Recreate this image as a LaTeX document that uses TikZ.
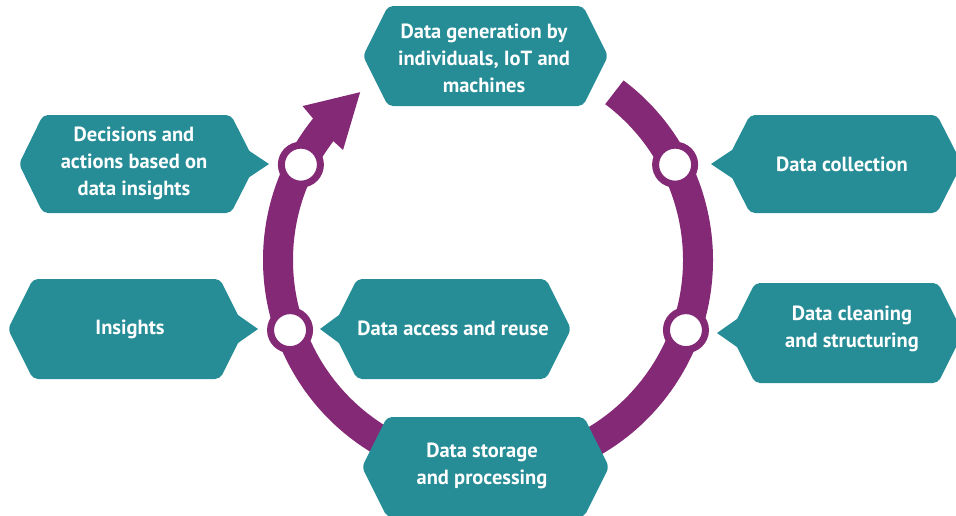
\documentclass[tikz,border=0pt]{standalone}
\usepackage{fontspec}
\setmainfont{PT Sans}
\usetikzlibrary{calc}
\definecolor{tealbox}{RGB}{38,141,151}
\definecolor{purp}{RGB}{132,41,117}
\begin{document}
\begin{tikzpicture}[x=1pt,y=1pt,
  box/.style={fill=tealbox, rounded corners=5pt},
  ptr/.style={fill=tealbox},
  lbl/.style={text=white, font=\bfseries\fontsize{20.5}{27}\selectfont, align=center, inner sep=0pt},
  ring/.style={draw=purp, line width=30pt},
  dot/.style={circle, fill=white, draw=purp, line width=7pt, minimum size=39pt, inner sep=0pt}]
\useasboundingbox (0,0) rectangle (956,-515);
\coordinate (c) at (488,-260);
% ring and arrow
\draw[ring] ($(c)+(53:210pt)$) arc[start angle=53, end angle=-219.5, radius=210pt];
\fill[purp] ($(c)+(127.3:211pt)$) -- ($(c)+(140.3:241pt)$) -- ($(c)+(141:226pt)$)
  -- ($(c)+(142.4:197pt)$) -- ($(c)+(142.8:182pt)$) -- cycle;
\node[dot] (d1) at ($(c)+(27:210pt)$) {};
\node[dot] (d2) at ($(c)+(-19.5:210pt)$) {};
\node[dot] (d3) at ($(c)+(153:210pt)$) {};
\node[dot] (d4) at ($(c)+(199.5:210pt)$) {};
% boxes
\path[box] (363,-56) -- (388,-6) -- (583,-6) -- (608,-56) -- (583,-106) -- (388,-106) -- cycle;
\path[box] (19,-164) -- (43,-115) -- (231,-115) -- (256,-164) -- (231,-213) -- (43,-213) -- cycle;
\path[ptr] (248,-150) -- (269,-164) -- (248,-178) -- cycle;
\path[box] (725,-164) -- (750,-115) -- (937,-115) -- (962,-164) -- (937,-213) -- (750,-213) -- cycle;
\path[ptr] (732,-150) -- (711,-164) -- (732,-178) -- cycle;
\path[box] (8,-329) -- (33,-279) -- (220,-279) -- (245,-329) -- (220,-379) -- (33,-379) -- cycle;
\path[ptr] (238,-315) -- (258,-329) -- (238,-343) -- cycle;
\path[box] (332,-329) -- (357,-279) -- (546,-279) -- (571,-329) -- (546,-379) -- (357,-379) -- cycle;
\path[ptr] (339,-315) -- (320,-329) -- (339,-343) -- cycle;
\path[box] (730,-333) -- (755,-283) -- (938,-283) -- (963,-333) -- (938,-383) -- (755,-383) -- cycle;
\path[ptr] (737,-319) -- (717,-333) -- (737,-347) -- cycle;
\path[box] (362,-467) -- (387,-417) -- (584,-417) -- (609,-467) -- (584,-517) -- (387,-517) -- cycle;
% labels
\node[lbl] (t1) at (484,-58) {Data generation by\\individuals, IoT and\\machines};
\node[lbl] (t2) at (134,-163) {Decisions and\\actions based on\\data insights};
\node[lbl] (t3) at (842,-164) {Data collection};
\node[lbl] (t4) at (130,-329) {Insights};
\node[lbl] (t5) at (453,-328) {Data access and reuse};
\node[lbl] (t6) at (852,-329) {Data cleaning\\and structuring};
\node[lbl] (t7) at (482,-466) {Data storage\\and processing};
\end{tikzpicture}
\end{document}
